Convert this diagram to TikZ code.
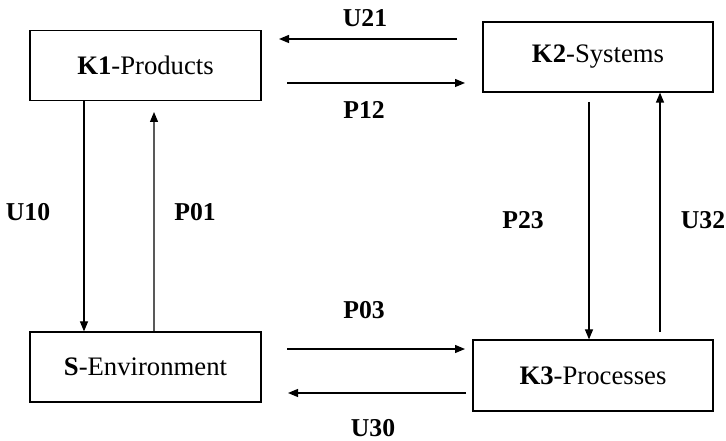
\documentclass[tikz,border=0pt]{standalone}
\usepackage{fontspec}
\setmainfont{Liberation Serif}
\usetikzlibrary{arrows.meta}
\begin{document}
\begin{tikzpicture}[x=1bp,y=-1bp,
  box/.style={draw, line width=1.2bp, inner sep=0pt, font=\fontsize{26.8}{30}\selectfont},
  lbl/.style={font=\fontsize{25.8}{30}\selectfont\bfseries, inner sep=0pt},
  flow/.style={line width=1.2bp, -{Triangle[length=10bp,width=8bp]}}]
\useasboundingbox (0,0) rectangle (726,441);

% blocks
\node[box, minimum width=231bp, minimum height=70bp] (K1) at (145.5,65.5) {\textbf{K1}-Products};
\node[box, minimum width=230bp, minimum height=70bp] (K2) at (598,57) {\textbf{K2}-Systems};
\node[box, minimum width=231bp, minimum height=70bp] (S) at (145.5,367) {\textbf{S}-Environment};
\node[box, minimum width=240bp, minimum height=71bp] (K3) at (593,375.5) {\textbf{K3}-Processes};

% free ends of the flows
\coordinate (u21a) at (457,39);  \coordinate (u21b) at (279,39);
\coordinate (p12a) at (287,83);  \coordinate (p12b) at (465,83);
\coordinate (p03a) at (287,349); \coordinate (p03b) at (465,349);
\coordinate (u30a) at (466,393); \coordinate (u30b) at (288,393);
\coordinate (p01b) at (154,112);
\coordinate (p23a) at (589,102);
\coordinate (u32a) at (660,332);

% flows between blocks
\draw[flow] (u21a) -- (u21b);
\draw[flow] (p12a) -- (p12b);
\draw[flow] (p03a) -- (p03b);
\draw[flow] (u30a) -- (u30b);
\draw[flow] ([xshift=-61.5bp]K1.south) -- ([xshift=-61.5bp]S.north);
\draw[flow] ([xshift=8.5bp]S.north) -- (p01b);
\draw[flow] (p23a) -- (p23a |- K3.north);
\draw[flow] (u32a) -- (u32a |- K2.south);

% flow labels
\node[lbl] (lU21) at (365,18) {U21};
\node[lbl] (lP12) at (364,110) {P12};
\node[lbl] (lU10) at (28,212) {U10};
\node[lbl] (lP01) at (195,212) {P01};
\node[lbl] (lP23) at (523,220) {P23};
\node[lbl] (lU32) at (703,220) {U32};
\node[lbl] (lP03) at (364,310) {P03};
\node[lbl] (lU30) at (373,428) {U30};
\end{tikzpicture}
\end{document}
